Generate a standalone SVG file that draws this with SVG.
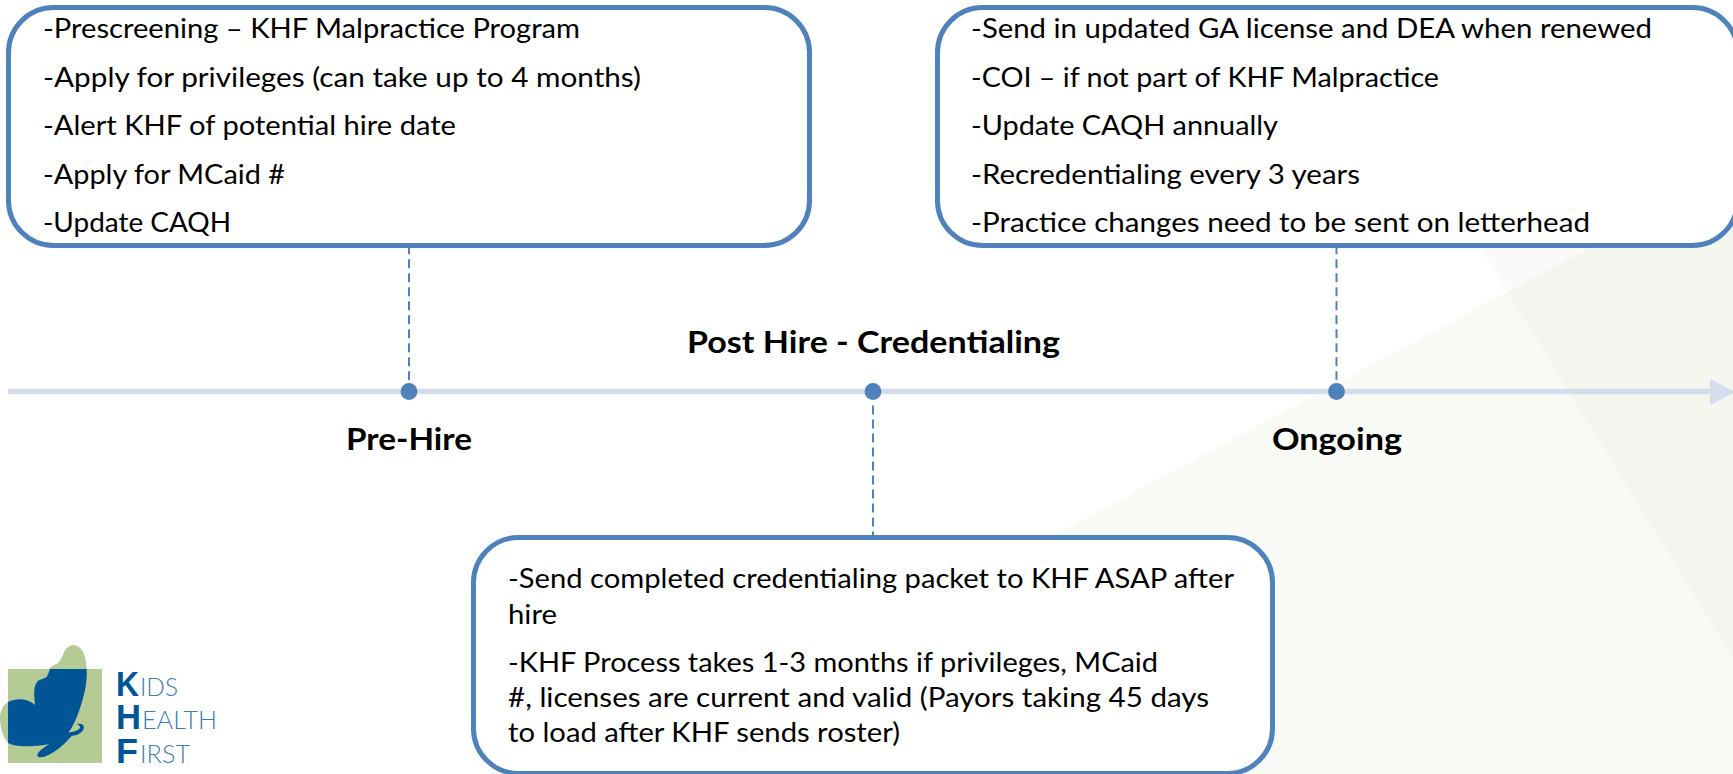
<svg xmlns="http://www.w3.org/2000/svg" width="1733" height="774" viewBox="0 0 1733 774">
<style>
.box{fill:#fff;stroke:#4f81bd;stroke-width:5}
.t{font-family:Lato,"Liberation Sans",sans-serif;font-size:26px;fill:#000}
.b{font-family:Lato,"Liberation Sans",sans-serif;font-size:31px;font-weight:700;fill:#000}
.dash{stroke:#4f81bd;stroke-width:2;stroke-dasharray:9 5;fill:none}
.dot{fill:#4f81bd}
.lg{font-family:"Liberation Sans",sans-serif;font-weight:700;font-size:35px;fill:#005596}
.ls{font-family:Lato,"Liberation Sans",sans-serif;font-weight:300;font-size:25px;fill:#3d7db5}
</style>
<defs>
<clipPath id="sq"><rect x="8" y="669" width="94" height="94"/></clipPath>
<path id="fly" d="M73 645C67 646 64 651 63 655C61 659 60 661 58 663C55 665 51 666 50 668.5C49 672 48 675 46.5 677C44 679 39 679 37 682C34 686 34 692 34.3 697L35 705C33 703 30 701 26 700C20 698.5 13 699.5 8 702C3 705 0 711 0 718C0 727 3 738 8 743C14 746.5 24 746.5 33 746C39 745.7 45 745 49 744C44 748 38 751 37.3 755C37.5 758 41 757.5 45 756.5C55 752.7 66 743 71.7 735.7C76 736 83 733 84 727.5C84 725 81 723 77 724C79 725 80.5 726.5 80 728C79 730 74 732 68.5 732.5C75 724 81 708 85 690C88 675 87 660 83 652C81 648 77 645 73 645Z"/>
</defs>
<g id="background">
<polygon points="609,774 1733,171 1733,774" fill="#f8faf5"/>
<polygon points="1420,150 1733,150 1733,658" fill="#6a8a3a" opacity="0.03"/>
</g>
<g id="connectors">
<line x1="8" y1="391.5" x2="1712" y2="391.5" stroke="#d5dcec" stroke-width="5.5"/>
<polygon points="1710,379 1735,392 1710,405" fill="#d5dcec"/>
<line class="dash" x1="409" y1="245.3" x2="409" y2="380"/>
<line class="dash" x1="1336.5" y1="245.3" x2="1336.5" y2="380"/>
<line class="dash" x1="873" y1="405.5" x2="873" y2="537"/>
</g>
<g id="dots">
<circle class="dot" cx="409" cy="391.5" r="8.4"/>
<circle class="dot" cx="873" cy="391.5" r="8.4"/>
<circle class="dot" cx="1336.5" cy="391.5" r="8.4"/>
</g>
<g id="box-prehire">
<rect class="box" x="8.5" y="7.5" width="801" height="238" rx="45" ry="45"/>
<text class="t" x="43" y="38" textLength="537" lengthAdjust="spacingAndGlyphs">-Prescreening – KHF Malpractice Program</text>
<text class="t" x="43" y="86.5" textLength="598" lengthAdjust="spacingAndGlyphs">-Apply for privileges (can take up to 4 months)</text>
<text class="t" x="43" y="135" textLength="413" lengthAdjust="spacingAndGlyphs">-Alert KHF of potential hire date</text>
<text class="t" x="43" y="183.5" textLength="242" lengthAdjust="spacingAndGlyphs">-Apply for MCaid #</text>
<text class="t" x="43" y="232" textLength="188" lengthAdjust="spacingAndGlyphs">-Update CAQH</text>
</g>
<g id="box-ongoing">
<rect class="box" x="937.5" y="7.5" width="800" height="238" rx="45" ry="45"/>
<text class="t" x="971" y="38" textLength="681" lengthAdjust="spacingAndGlyphs">-Send in updated GA license and DEA when renewed</text>
<text class="t" x="971" y="86.5" textLength="468" lengthAdjust="spacingAndGlyphs">-COI – if not part of KHF Malpractice</text>
<text class="t" x="971" y="135" textLength="307" lengthAdjust="spacingAndGlyphs">-Update CAQH annually</text>
<text class="t" x="971" y="183.5" textLength="389" lengthAdjust="spacingAndGlyphs">-Recredentialing every 3 years</text>
<text class="t" x="971" y="232" textLength="619" lengthAdjust="spacingAndGlyphs">-Practice changes need to be sent on letterhead</text>
</g>
<g id="box-credentialing">
<rect class="box" x="473.5" y="537.5" width="799" height="236" rx="45" ry="45"/>
<text class="t" x="508" y="588" textLength="726" lengthAdjust="spacingAndGlyphs">-Send completed credentialing packet to KHF ASAP after</text>
<text class="t" x="508" y="624" textLength="49" lengthAdjust="spacingAndGlyphs">hire</text>
<text class="t" x="508" y="672" textLength="650" lengthAdjust="spacingAndGlyphs">-KHF Process takes 1-3 months if privileges, MCaid</text>
<text class="t" x="508" y="707" textLength="701" lengthAdjust="spacingAndGlyphs">#, licenses are current and valid (Payors taking 45 days</text>
<text class="t" x="508" y="742" textLength="392" lengthAdjust="spacingAndGlyphs">to load after KHF sends roster)</text>
</g>
<g id="label-prehire"><text class="b" x="346" y="450" textLength="126" lengthAdjust="spacingAndGlyphs">Pre-Hire</text></g>
<g id="label-post"><text class="b" x="687" y="352.5" textLength="373" lengthAdjust="spacingAndGlyphs">Post Hire - Credentialing</text></g>
<g id="label-ongoing"><text class="b" x="1272" y="450" textLength="130" lengthAdjust="spacingAndGlyphs">Ongoing</text></g>
<g id="logo">
<rect x="8" y="669" width="94" height="94" fill="#b5cb96"/>
<use href="#fly" fill="#b5cb96"/>
<use href="#fly" fill="#005596" clip-path="url(#sq)"/>
<text class="lg" x="116" y="696" textLength="23" lengthAdjust="spacingAndGlyphs">K</text><text class="ls" x="140" y="696" textLength="38" lengthAdjust="spacingAndGlyphs">IDS</text>
<text class="lg" x="116" y="729" textLength="25" lengthAdjust="spacingAndGlyphs">H</text><text class="ls" x="142" y="729" textLength="75" lengthAdjust="spacingAndGlyphs">EALTH</text>
<text class="lg" x="116" y="762.5" textLength="22" lengthAdjust="spacingAndGlyphs">F</text><text class="ls" x="140" y="762.5" textLength="50" lengthAdjust="spacingAndGlyphs">IRST</text>
</g>
</svg>
